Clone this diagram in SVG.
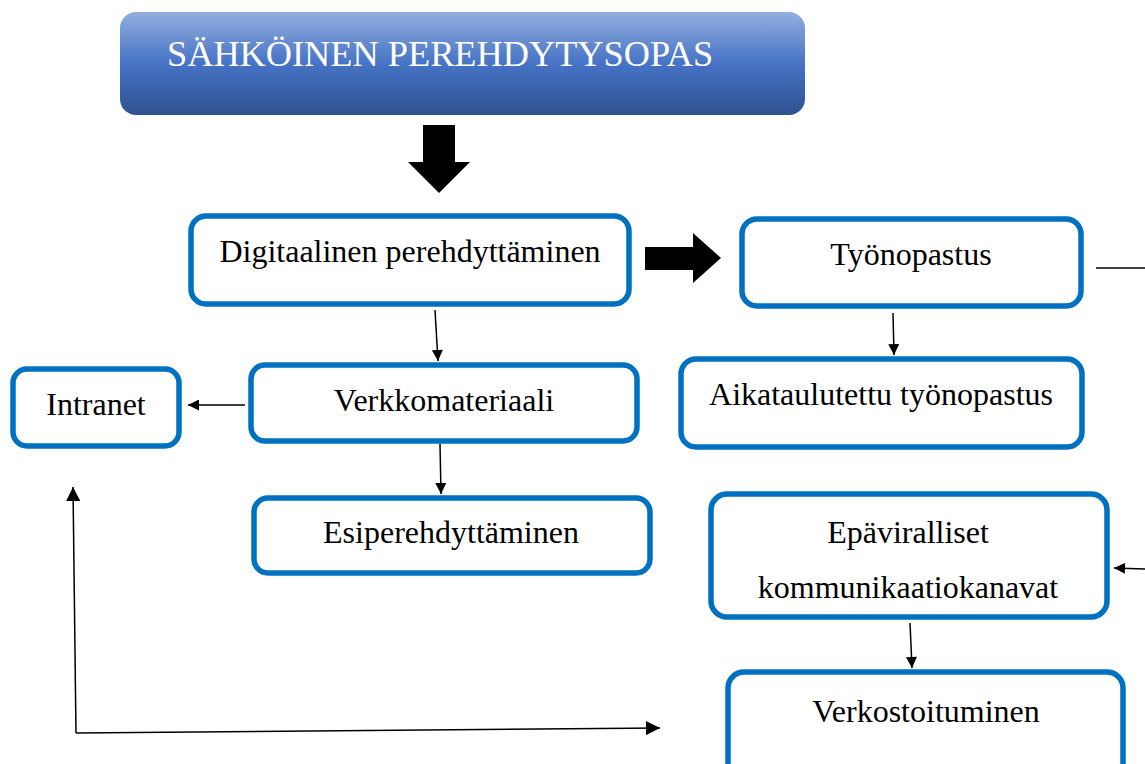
<svg xmlns="http://www.w3.org/2000/svg" width="1145" height="764" viewBox="0 0 1145 764">
<defs>
<linearGradient id="tg" x1="0" y1="0" x2="0" y2="1">
<stop offset="0" stop-color="#94afdf"/>
<stop offset="0.5" stop-color="#4673c5"/>
<stop offset="1" stop-color="#2e5190"/>
</linearGradient>
<marker id="ah" viewBox="0 0 10 10" refX="10" refY="5" markerWidth="12" markerHeight="11" markerUnits="userSpaceOnUse" orient="auto">
<path d="M0,0 L10,5 L0,10 Z" fill="#000"/>
</marker>
<marker id="ahb" viewBox="0 0 12 12" refX="12" refY="6" markerWidth="15" markerHeight="14" markerUnits="userSpaceOnUse" orient="auto">
<path d="M0,0 L12,6 L0,12 Z" fill="#000"/>
</marker>
</defs>
<style>
.box{fill:#fff;stroke:#0070c0;stroke-width:5.5}
.t{font-family:"Liberation Serif","Times New Roman",serif;font-size:32px;fill:#000;text-anchor:middle}
.c{stroke:#000;stroke-width:1.5;fill:none}
</style>
<rect width="1145" height="764" fill="#fff"/>
<g id="title">
<rect x="120" y="12" width="685" height="103" rx="16" fill="url(#tg)"/>
<text x="167" y="66" font-family="Liberation Serif,'Times New Roman',serif" font-size="36.3" fill="#fff">SÄHKÖINEN PEREHDYTYSOPAS</text>
</g>
<g id="bigarrows">
<path d="M423,125 H455 V162 H470 L439,193 L408,162 H423 Z" fill="#000"/>
<path d="M645,247 H693 V233 L721,258 L693,283 V270 H645 Z" fill="#000"/>
</g>
<g id="digitaalinen">
<rect class="box" x="191" y="216" width="438" height="88" rx="15"/>
<text class="t" x="410" y="262">Digitaalinen perehdyttäminen</text>
</g>
<g id="tyonopastus">
<rect class="box" x="742" y="219" width="339" height="87" rx="15"/>
<text class="t" x="911" y="265">Työnopastus</text>
</g>
<g id="verkkomateriaali">
<rect class="box" x="251" y="365" width="386" height="76" rx="14"/>
<text class="t" x="444" y="411">Verkkomateriaali</text>
</g>
<g id="intranet">
<rect class="box" x="13" y="369" width="166" height="77" rx="14"/>
<text class="t" x="96" y="415">Intranet</text>
</g>
<g id="aikataulutettu">
<rect class="box" x="681" y="359" width="401" height="88" rx="15"/>
<text class="t" x="881" y="405">Aikataulutettu työnopastus</text>
</g>
<g id="esiperehdyttaminen">
<rect class="box" x="254" y="498" width="396" height="75" rx="14"/>
<text class="t" x="451" y="543">Esiperehdyttäminen</text>
</g>
<g id="epaviralliset">
<rect class="box" x="711" y="494" width="396" height="123" rx="16"/>
<text class="t" x="908" y="543">Epäviralliset</text>
<text class="t" x="908" y="598">kommunikaatiokanavat</text>
</g>
<g id="verkostoituminen">
<rect class="box" x="728" y="672" width="395" height="110" rx="16"/>
<text class="t" x="926" y="722">Verkostoituminen</text>
</g>
<g id="connectors">
<line class="c" x1="435" y1="310" x2="438" y2="361" marker-end="url(#ah)"/>
<line class="c" x1="245" y1="405" x2="188" y2="405" marker-end="url(#ah)"/>
<line class="c" x1="440" y1="444" x2="441" y2="494" marker-end="url(#ah)"/>
<line class="c" x1="893" y1="313" x2="894" y2="355" marker-end="url(#ah)"/>
<line class="c" x1="1096" y1="268" x2="1145" y2="268"/>
<line class="c" x1="1145" y1="569" x2="1114" y2="568" marker-end="url(#ah)"/>
<line class="c" x1="910" y1="623" x2="912" y2="668" marker-end="url(#ah)"/>
<line class="c" x1="76" y1="733" x2="73" y2="487" marker-end="url(#ahb)"/>
<line class="c" x1="76" y1="733" x2="660" y2="728" marker-end="url(#ahb)"/>
</g>
</svg>
